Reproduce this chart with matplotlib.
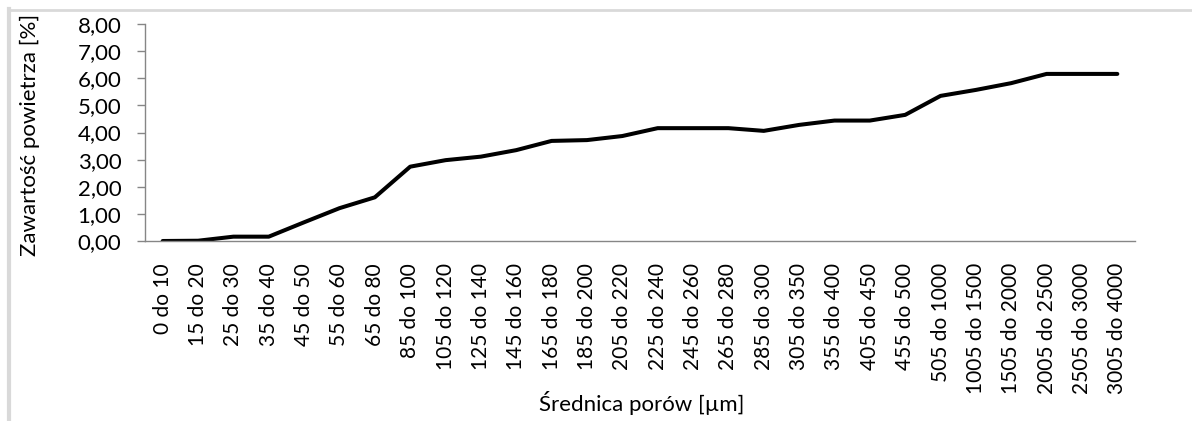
import matplotlib
matplotlib.use("Agg")
import matplotlib.pyplot as plt
from matplotlib.lines import Line2D
from matplotlib.ticker import FuncFormatter

plt.rcParams['font.family'] = ['Lato', 'DejaVu Sans']

categories = ["0 do 10", "15 do 20", "25 do 30", "35 do 40", "45 do 50", "55 do 60",
              "65 do 80", "85 do 100", "105 do 120", "125 do 140", "145 do 160",
              "165 do 180", "185 do 200", "205 do 220", "225 do 240", "245 do 260",
              "265 do 280", "285 do 300", "305 do 350", "355 do 400", "405 do 450",
              "455 do 500", "505 do 1000", "1005 do 1500", "1505 do 2000",
              "2005 do 2500", "2505 do 3000", "3005 do 4000"]
values = [0.00, 0.01, 0.16, 0.16, 0.69, 1.21, 1.61, 2.74, 2.98, 3.11, 3.35,
          3.69, 3.72, 3.87, 4.16, 4.16, 4.16, 4.06, 4.28, 4.44, 4.44, 4.65,
          5.35, 5.57, 5.82, 6.16, 6.16, 6.16]
y_ticks = [0, 1, 2, 3, 4, 5, 6, 7, 8]

W, H = 1192, 421
fig = plt.figure(figsize=(W / 100, H / 100), dpi=100)
ax = fig.add_axes([145 / W, 1 - 241 / H, (1135 - 145) / W, (241 - 24) / H])

x = list(range(len(categories)))
ax.plot(x, values, color='black', lw=2.9, solid_joinstyle='round', solid_capstyle='round')

ax.set_xlim(-0.5, len(categories) - 0.5)
ax.set_ylim(0, 8)
ax.set_yticks(y_ticks)
ax.yaxis.set_major_formatter(FuncFormatter(lambda v, p: f"{v:.2f}".replace('.', ',')))
ax.set_xticks(x)
ax.set_xticklabels(categories, rotation=90, va='top', ha='center')

for s in ['top', 'right']:
    ax.spines[s].set_visible(False)
for s in ['left', 'bottom']:
    ax.spines[s].set_color('#868686')
    ax.spines[s].set_linewidth(1.0)

ax.tick_params(axis='y', length=6, width=1.0, color='#868686', labelsize=16, pad=11, direction='out')
ax.tick_params(axis='x', length=0, labelsize=15, pad=16)

fig.text(30 / W, 1 - 135 / H, "Zawartość powietrza [%]", fontsize=16, rotation=90,
         ha='center', va='center')
fig.text(642 / W, 1 - 403 / H, "Średnica porów [µm]", fontsize=16,
         ha='center', va='center')

# outer chart frame (light gray, only top and left visible)
fig.add_artist(Line2D([9 / W, 9 / W], [0, 1 - 9 / H], transform=fig.transFigure,
                      color='#d9d9d9', lw=3))
fig.add_artist(Line2D([9 / W, 1], [1 - 10 / H, 1 - 10 / H], transform=fig.transFigure,
                      color='#d9d9d9', lw=2))

fig.savefig("out.png", dpi=100, facecolor='white')
